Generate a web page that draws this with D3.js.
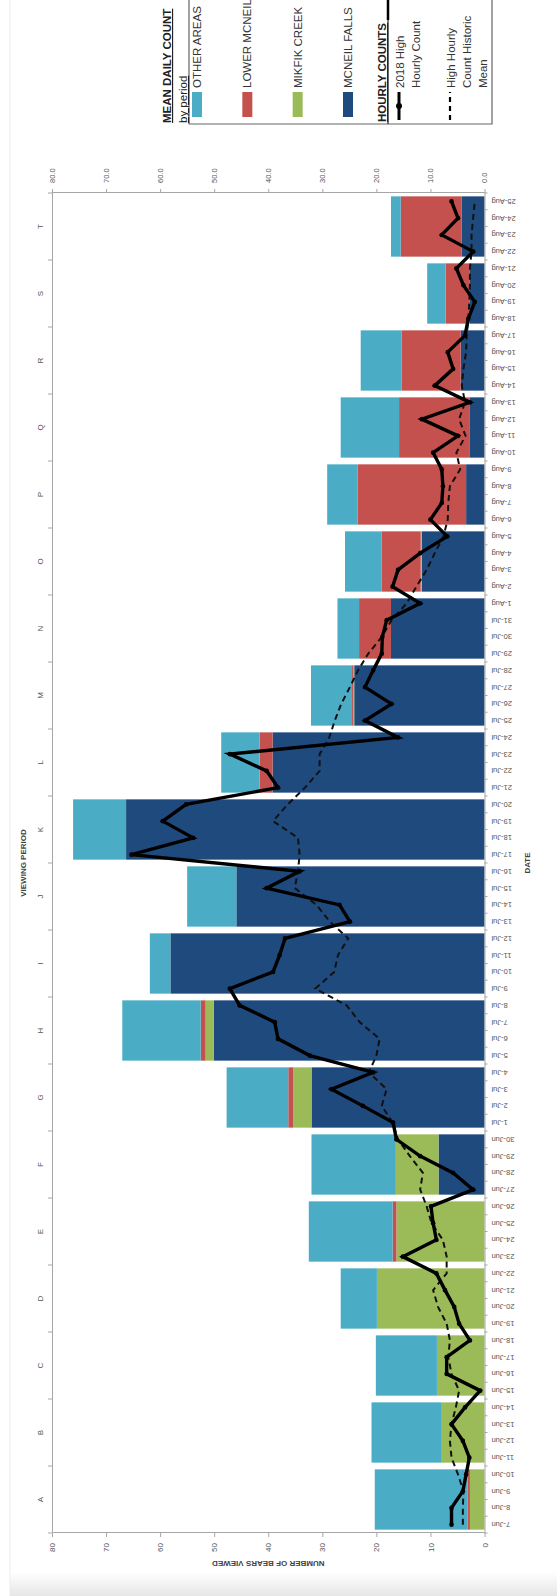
<!DOCTYPE html>
<html><head><meta charset="utf-8">
<script src="https://cdn.jsdelivr.net/npm/d3@7"></script>
<style>
body{margin:0;background:#fff}
svg{display:block}
text{font-family:"Liberation Sans",Arial,sans-serif}
</style>
</head><body>
<svg id="chart" width="557" height="1596"></svg>
<script>
// ---------- data ----------
const periods = ["A","B","C","D","E","F","G","H","I","J","K","L","M","N","O","P","Q","R","S","T"];
const dates = [
 "7-Jun","8-Jun","9-Jun","10-Jun","11-Jun","12-Jun","13-Jun","14-Jun","15-Jun","16-Jun","17-Jun","18-Jun",
 "19-Jun","20-Jun","21-Jun","22-Jun","23-Jun","24-Jun","25-Jun","26-Jun","27-Jun","28-Jun","29-Jun","30-Jun",
 "1-Jul","2-Jul","3-Jul","4-Jul","5-Jul","6-Jul","7-Jul","8-Jul","9-Jul","10-Jul","11-Jul","12-Jul",
 "13-Jul","14-Jul","15-Jul","16-Jul","17-Jul","18-Jul","19-Jul","20-Jul","21-Jul","22-Jul","23-Jul","24-Jul",
 "25-Jul","26-Jul","27-Jul","28-Jul","29-Jul","30-Jul","31-Jul","1-Aug","2-Aug","3-Aug","4-Aug","5-Aug",
 "6-Aug","7-Aug","8-Aug","9-Aug","10-Aug","11-Aug","12-Aug","13-Aug","14-Aug","15-Aug","16-Aug","17-Aug",
 "18-Aug","19-Aug","20-Aug","21-Aug","22-Aug","23-Aug","24-Aug","25-Aug"];
const mcneilFalls = [0,0,0,0,0,8.5,32.0,50.1,58.1,45.9,66.3,39.2,24.1,17.3,11.6,3.4,2.8,4.4,2.7,4.2];
const mikfikCreek = [2.7,7.9,8.8,19.9,16.3,7.9,3.4,1.5,0,0,0,0,0.2,0,0.2,0,0,0,0,0];
const lowerMcneil = [0.4,0,0,0,0.7,0,0.9,0.9,0,0,0,2.4,0.2,5.9,7.2,20.1,13.0,10.9,4.5,11.3];
const otherAreas  = [17.2,13.0,11.3,6.7,15.5,15.6,11.4,14.5,3.8,9.1,9.8,7.1,7.6,4.0,6.8,5.6,10.8,7.6,3.4,1.8];
const highHourly2018 = [
 6.1,6.1,4.0,3.4,2.8,4.0,6.1,3.6,0.8,7.0,7.0,2.7,4.7,5.6,7.3,8.9,15.1,8.9,9.5,9.9,2.1,5.8,11.9,16.3,
 16.9,22.5,28.3,20.6,32.3,38.2,38.8,45.3,47.1,39.1,37.9,36.9,24.9,26.8,40.3,34.2,65.3,53.9,59.5,55.2,
 38.2,40.3,47.1,16.0,22.1,17.2,22.1,20.6,19.0,18.9,18.1,
 11.9,17.0,16.0,11.9,6.9,10.0,7.9,7.7,7.9,9.5,4.9,11.6,2.7,9.2,5.8,6.8,3.6,3.0,1.8,3.9,5.2,2.1,7.9,4.9,6.1];
const historicMean = [
 4.0,4.0,3.9,4.9,6.1,6.4,6.1,5.3,4.7,6.1,6.7,6.4,7.0,8.6,9.5,7.0,7.0,7.7,9.8,10.7,11.9,11.4,13.8,16.0,
 17.0,19.0,18.1,21.4,20.0,19.4,23.1,25.5,31.3,27.8,27.1,25.2,28.6,31.1,35.1,34.5,34.2,34.5,39.1,36.4,
 33.2,30.5,30.5,28.7,27.7,26.5,24.9,23.4,21.5,19.0,17.2,
 14.4,12.6,10.7,9.2,7.6,6.8,6.7,6.4,4.5,5.2,3.5,4.7,3.6,4.2,3.9,3.4,3.3,3.0,2.8,2.7,2.7,2.4,2.4,2.1,1.8];
const valueTicks = [0,10,20,30,40,50,60,70,80];
const seriesKeys = ["mcneil","mikfik","lower","other"];
const seriesNames = {other:"OTHER AREAS", lower:"LOWER MCNEIL", mikfik:"MIKFIK CREEK", mcneil:"MCNEIL FALLS"};
const seriesColors = {mcneil:"#1F4A7E", mikfik:"#9BBB59", lower:"#C4514D", other:"#4BACC6"};

// ---------- layout (chart drawn landscape, then turned a quarter turn) ----------
const W = 557, H = 1596;
const svg = d3.select("#chart");

const defs = svg.append("defs");
const grad = defs.append("linearGradient").attr("id","bot").attr("x1",0).attr("x2",0).attr("y1",0).attr("y2",1);
grad.append("stop").attr("offset","0").attr("stop-color","#ffffff");
grad.append("stop").attr("offset","1").attr("stop-color","#e6e6e6");
svg.append("rect").attr("x",10).attr("y",1572).attr("width",W-10).attr("height",H-1572).attr("fill","url(#bot)");
svg.append("line").attr("x1",10).attr("x2",10).attr("y1",0).attr("y2",H).attr("stroke","#ececec");

const g = svg.append("g").attr("transform",`translate(0,${H}) rotate(-90)`);
const plot = {left:63, right:1403, top:52, bottom:484.5};

const x = d3.scaleBand().domain(dates).range([plot.left, plot.right]);
const xp = d3.scaleBand().domain(periods).range([plot.left, plot.right]).paddingInner(0.1).paddingOuter(0.05);
const y = d3.scaleLinear().domain([0,80]).range([plot.bottom, plot.top]);

const table = periods.map((p,i)=>({period:p, mcneil:mcneilFalls[i], mikfik:mikfikCreek[i], lower:lowerMcneil[i], other:otherAreas[i]}));
const stacked = d3.stack().keys(seriesKeys)(table);

g.append("g").selectAll("g").data(stacked).join("g")
  .attr("fill", s=>seriesColors[s.key])
  .selectAll("rect").data(s=>s).join("rect")
  .attr("x", d=>xp(d.data.period))
  .attr("width", xp.bandwidth())
  .attr("y", d=>y(d[1]))
  .attr("height", d=>Math.max(0, y(d[0]) - y(d[1])));

// ---------- axes ----------
const axisColor = "#a6a6a6", labelColor = "#555";
function styleAxis(sel, fs){
  sel.selectAll("path,line").attr("stroke", axisColor);
  sel.selectAll("text").attr("fill", labelColor).style("font-size", fs);
}
g.append("g").attr("transform",`translate(${plot.left},0)`)
  .call(d3.axisLeft(y).tickValues(valueTicks).tickFormat(d3.format("d")).tickSize(4).tickSizeOuter(0).tickPadding(6))
  .call(s=>styleAxis(s,"8px"));
g.append("g").attr("transform",`translate(${plot.right},0)`)
  .call(d3.axisRight(y).tickValues(valueTicks).tickFormat(d3.format(".1f")).tickSize(4).tickSizeOuter(0).tickPadding(6))
  .call(s=>styleAxis(s,"7.5px"));
const dateAxis = g.append("g").attr("transform",`translate(0,${plot.bottom})`)
  .call(d3.axisBottom(x).tickSize(0).tickSizeOuter(0))
  .call(s=>styleAxis(s,"7.5px"));
dateAxis.selectAll(".tick text")
  .attr("transform","rotate(-90)").attr("text-anchor","end")
  .attr("x",-7).attr("y",0).attr("dy","0.35em");
dateAxis.append("g").selectAll("line").data(dates.map(d=>x(d)).concat([plot.right])).join("line")
  .attr("x1",d=>d).attr("x2",d=>d).attr("y1",0).attr("y2",3).attr("stroke",axisColor);
const perAxis = g.append("g").attr("transform",`translate(0,${plot.top})`)
  .call(d3.axisTop(xp).tickSize(0).tickSizeOuter(0).tickPadding(9))
  .call(s=>styleAxis(s,"8px"));
perAxis.append("g").selectAll("line")
  .data(periods.map((p,i)=>x(dates[i*4])).concat([plot.right])).join("line")
  .attr("x1",d=>d).attr("x2",d=>d).attr("y1",0).attr("y2",-4).attr("stroke",axisColor);

// ---------- lines ----------
const line = d3.line().x((v,i)=>x(dates[i]) + x.bandwidth()/2).y(v=>y(v));
g.append("path").datum(historicMean).attr("d",line)
  .attr("fill","none").attr("stroke","#111").attr("stroke-width",2).attr("stroke-dasharray","6,4");
g.append("path").datum(highHourly2018).attr("d",line)
  .attr("fill","none").attr("stroke","#000").attr("stroke-width",3.4).attr("stroke-linejoin","miter");
g.append("g").selectAll("circle").data(highHourly2018).join("circle")
  .attr("cx",(v,i)=>x(dates[i]) + x.bandwidth()/2).attr("cy",v=>y(v)).attr("r",2.3).attr("fill","#000");

// ---------- axis titles ----------
const mid = (plot.left + plot.right)/2;
g.append("text").text("NUMBER OF BEARS VIEWED")
  .attr("transform",`translate(33,${(plot.top+plot.bottom)/2}) rotate(-90)`)
  .attr("text-anchor","middle").attr("dominant-baseline","central")
  .attr("font-weight","bold").style("font-size","8px").attr("fill","#444");
g.append("text").text("DATE").attr("x",mid).attr("y",527)
  .attr("text-anchor","middle").attr("dominant-baseline","central")
  .attr("font-weight","bold").style("font-size","8px").attr("fill","#444");
g.append("text").text("VIEWING PERIOD").attr("x",mid).attr("y",23)
  .attr("text-anchor","middle").attr("dominant-baseline","central")
  .attr("font-weight","bold").style("font-size","8px").attr("fill","#444");

// ---------- legend ----------
const lg = g.append("g");
lg.append("path").attr("d","M1600,189H1472V492H1600").attr("fill","none").attr("stroke","#666").attr("stroke-width",1.2);
lg.append("line").attr("x1",1472).attr("x2",1600).attr("y1",388).attr("y2",388).attr("stroke","#222").attr("stroke-width",1.2);
lg.append("line").attr("x1",1576).attr("x2",1600).attr("y1",388).attr("y2",388).attr("stroke","#000").attr("stroke-width",2.5);
lg.append("text").text("MEAN DAILY COUNT").attr("x",1473).attr("y",171)
  .attr("font-weight","bold").style("font-size","11.5px").attr("fill","#222").style("text-decoration","underline");
lg.append("text").text("by period").attr("x",1473).attr("y",187)
  .style("font-size","11.5px").attr("fill","#222").style("text-decoration","underline");
const legendOrder = ["other","lower","mikfik","mcneil"];
const legRow = d3.scalePoint().domain(legendOrder).range([197,348]);
legendOrder.forEach(k=>{
  lg.append("rect").attr("x",1479).attr("y",legRow(k)-5).attr("width",25).attr("height",10).attr("fill",seriesColors[k]);
  lg.append("text").text(seriesNames[k]).attr("x",1508).attr("y",legRow(k)+4)
    .style("font-size","11.5px").attr("fill","#333");
});
lg.append("text").text("HOURLY COUNTS").attr("x",1474).attr("y",386)
  .attr("font-weight","bold").style("font-size","11.5px").attr("fill","#222").style("text-decoration","underline");
lg.append("line").attr("x1",1476).attr("x2",1504).attr("y1",399).attr("y2",399).attr("stroke","#000").attr("stroke-width",3);
lg.append("circle").attr("cx",1490).attr("cy",399).attr("r",3).attr("fill","#000");
lg.append("line").attr("x1",1476).attr("x2",1504).attr("y1",450).attr("y2",450).attr("stroke","#000").attr("stroke-width",2.2).attr("stroke-dasharray","5,4");
[["2018 High",403],["Hourly Count",419],["High Hourly",454],["Count Historic",470],["Mean",486]].forEach(([t,yy])=>{
  lg.append("text").text(t).attr("x",1508).attr("y",yy+1).style("font-size","11.5px").attr("fill","#333");
});
</script>
</body></html>
